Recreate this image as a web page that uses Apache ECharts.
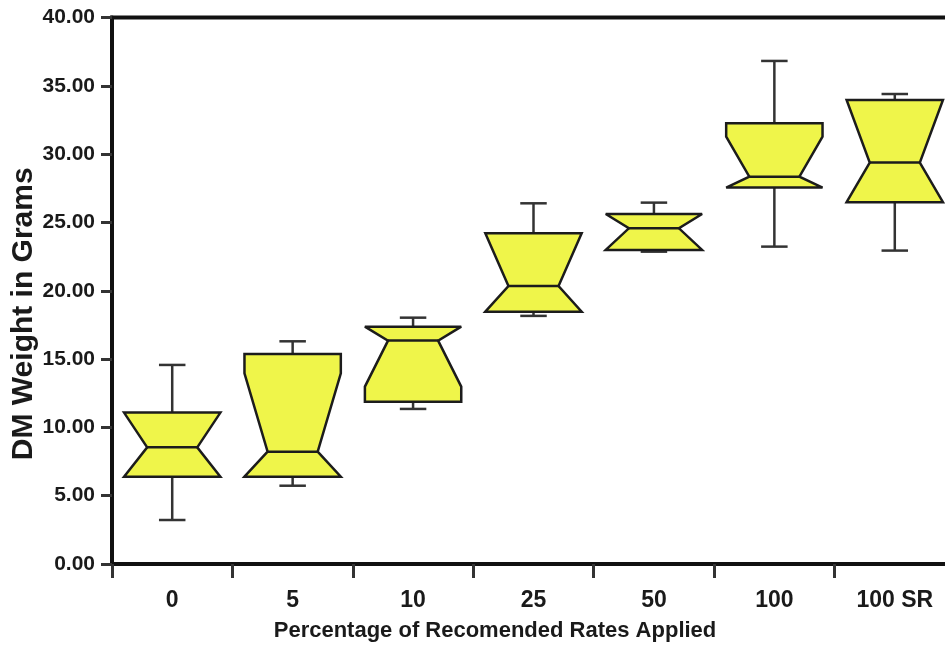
<!DOCTYPE html>
<html>
<head>
<meta charset="utf-8">
<script src="https://cdn.jsdelivr.net/npm/echarts@6/dist/echarts.min.js"></script>
<style>
html,body{margin:0;padding:0;background:#fff;}
#chart{width:945px;height:645px;}
</style>
</head>
<body>
<div id="chart"></div>
<script>
// Data
var categories = ['0', '5', '10', '25', '50', '100', '100 SR'];
var minVals        = [3.22, 5.73, 11.35, 18.16, 22.86, 23.23, 22.94];
var q1Vals         = [6.39, 6.39, 11.88, 18.47, 22.99, 27.55, 26.48];
var notchLowVals   = [6.30, 6.25, 12.98, 18.42, 22.92, 27.42, 26.42];
var medianVals     = [8.54, 8.22, 16.35, 20.35, 24.57, 28.35, 29.38];
var notchHighVals  = [11.15, 13.96, 17.45, 24.25, 25.68, 31.28, 34.03];
var q3Vals         = [11.08, 15.37, 17.37, 24.20, 25.62, 32.26, 33.97];
var maxVals        = [14.57, 16.30, 18.03, 26.40, 26.45, 36.82, 34.40];
var yTicks = [0, 5, 10, 15, 20, 25, 30, 35, 40];

var boxData = categories.map(function (c, i) {
  return [i, minVals[i], q1Vals[i], notchLowVals[i], medianVals[i], notchHighVals[i], q3Vals[i], maxVals[i]];
});

var FILL = '#eff54a';
var STROKE = '#1c1c1c';
var WHISK = '#333333';

function renderItem(params, api) {
  var idx = api.value(0);
  var vMin = api.value(1), vQ1 = api.value(2), vNL = api.value(3), vMed = api.value(4),
      vNH = api.value(5), vQ3 = api.value(6), vMax = api.value(7);
  // notch drawn up to the hinge at most (no fold-back spikes)
  var dNL = Math.max(vNL, vQ1), dNH = Math.min(vNH, vQ3);
  var cx = api.coord([idx, vMed])[0];
  var band = api.size([1, 0])[0];
  var half = band * 0.40;
  var nHalf = half * 0.52;
  var capHalf = band * 0.11;
  function Y(v) { return api.coord([idx, v])[1]; }
  var xl = cx - half, xr = cx + half;
  var pts = [
    [xl, Y(vQ1)], [xl, Y(dNL)], [cx - nHalf, Y(vMed)], [xl, Y(dNH)], [xl, Y(vQ3)],
    [xr, Y(vQ3)], [xr, Y(dNH)], [cx + nHalf, Y(vMed)], [xr, Y(dNL)], [xr, Y(vQ1)]
  ];
  var lineStyle = { stroke: WHISK, lineWidth: 2.5 };
  return {
    type: 'group',
    children: [
      { type: 'line', shape: { x1: cx, y1: Y(vQ3), x2: cx, y2: Y(vMax) }, style: lineStyle },
      { type: 'line', shape: { x1: cx - capHalf, y1: Y(vMax), x2: cx + capHalf, y2: Y(vMax) }, style: lineStyle },
      { type: 'line', shape: { x1: cx, y1: Y(vQ1), x2: cx, y2: Y(vMin) }, style: lineStyle },
      { type: 'line', shape: { x1: cx - capHalf, y1: Y(vMin), x2: cx + capHalf, y2: Y(vMin) }, style: lineStyle },
      { type: 'polygon', shape: { points: pts }, style: { fill: FILL, stroke: STROKE, lineWidth: 2.5, lineJoin: 'miter', miterLimit: 3 } },
      { type: 'line', shape: { x1: cx - nHalf, y1: Y(vMed), x2: cx + nHalf, y2: Y(vMed) }, style: { stroke: STROKE, lineWidth: 2.5 } }
    ]
  };
}

var chart = echarts.init(document.getElementById('chart'));
chart.setOption({
  animation: false,
  backgroundColor: '#ffffff',
  grid: {
    left: 112, top: 17.5, width: 843, height: 546.5,
    outerBoundsMode: 'none', containLabel: false,
    show: true, borderColor: '#111', borderWidth: 4, backgroundColor: 'transparent'
  },
  xAxis: {
    type: 'category',
    data: categories,
    boundaryGap: true,
    name: 'Percentage of Recomended Rates Applied',
    nameLocation: 'middle',
    nameGap: 56,
    nameMoveOverlap: false,
    nameTextStyle: { fontFamily: 'Liberation Sans', fontWeight: 'bold', fontSize: 22, color: '#1a1a1a', padding: [0, 77, 0, 0] },
    axisLine: { lineStyle: { color: '#111', width: 4 } },
    axisTick: { show: true, length: 14, lineStyle: { color: '#333', width: 3 } },
    axisLabel: { fontFamily: 'Liberation Sans', fontWeight: 'bold', fontSize: 23, color: '#1a1a1a', margin: 25 },
    splitLine: { show: false }
  },
  yAxis: {
    type: 'value',
    min: yTicks[0], max: yTicks[yTicks.length - 1], interval: 5,
    name: 'DM Weight in Grams',
    nameLocation: 'middle',
    nameGap: 73,
    nameMoveOverlap: false,
    nameTextStyle: { fontFamily: 'Liberation Sans', fontWeight: 'bold', fontSize: 30, color: '#1a1a1a', padding: [0, 46, 0, 0] },
    axisLine: { show: true, lineStyle: { color: '#111', width: 4 } },
    axisTick: { show: true, length: 11, lineStyle: { color: '#333', width: 3 } },
    axisLabel: {
      fontFamily: 'Liberation Sans', fontWeight: 'bold', fontSize: 21, color: '#1a1a1a', margin: 17,
      formatter: function (v) { return v.toFixed(2); }
    },
    splitLine: { show: false }
  },
  series: [{
    type: 'custom',
    renderItem: renderItem,
    encode: { x: 0, y: [1, 2, 3, 4, 5, 6, 7] },
    data: boxData,
    clip: false
  }]
});
</script>
</body>
</html>
